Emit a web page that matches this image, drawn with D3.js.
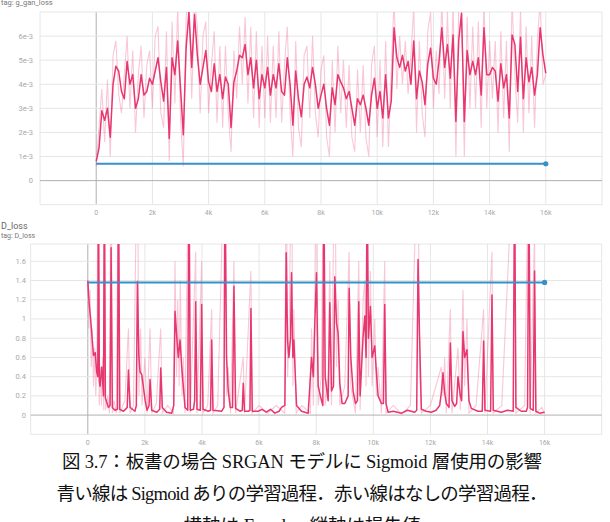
<!DOCTYPE html>
<html><head><meta charset="utf-8">
<script src="https://cdn.jsdelivr.net/npm/d3@7"></script>
<style>
html,body{margin:0;padding:0;background:#fff;}
svg{display:block;}
</style></head>
<body>
<svg id="c" width="610" height="522"></svg>
<script>
// ---------- data ----------
// top chart: g_gan_loss (units of 1e-3), sampled every 100 steps from 0 to 16000
const gStepInterval = 100;
const gSmoothed = [
0.8,1.35,2.9,2.5,3.0,1.8,4.0,4.75,4.55,3.7,
3.4,4.95,4.0,4.4,3.0,3.4,4.4,3.55,3.7,4.25,
4.0,4.55,5.1,4.1,3.3,4.7,1.75,5.1,4.4,5.8,
3.85,1.9,5.5,7.0,4.7,6.9,5.2,4.0,4.7,5.4,
4.1,3.7,4.85,3.7,4.4,3.4,4.3,4.0,2.2,4.1,
4.55,5.2,5.1,5.65,4.4,5.1,3.85,5.0,3.4,4.4,
3.85,4.7,3.55,4.4,3.85,4.85,3.7,3.55,5.1,4.0,
2.3,4.55,3.4,2.65,4.0,4.3,3.85,4.7,4.0,3.0,
3.55,4.0,3.0,2.3,3.85,3.15,4.4,4.1,3.85,3.4,
3.7,3.0,2.3,3.4,3.15,3.55,3.0,2.3,3.55,4.25,
3.0,3.7,2.6,4.4,2.6,3.3,6.35,5.1,4.7,5.2,
4.55,4.95,4.0,5.8,3.4,4.55,4.1,3.15,4.85,5.5,
4.25,4.0,4.95,6.35,4.7,5.65,4.25,6.05,2.45,5.8,
6.95,2.45,5.4,4.4,4.95,4.4,5.1,3.55,6.35,4.4,
4.4,4.7,4.55,3.3,4.85,3.85,4.4,2.6,6.05,5.65,
3.7,5.95,3.4,5.1,4.1,4.7,3.55,4.4,6.35,5.2,
4.45];
const gRaw = [
0.6,2.2,3.8,1.6,4.2,1.0,5.2,5.8,3.6,2.8,
4.4,6.0,3.0,5.4,2.0,4.4,5.6,2.6,4.8,5.4,
3.0,6.0,6.4,2.8,2.2,6.2,0.8,6.6,3.2,7.2,
2.6,0.6,6.8,7.5,3.4,7.5,6.4,2.8,6.0,6.6,
2.8,4.8,6.2,2.4,5.6,2.2,5.6,2.8,1.2,5.4,
3.4,6.4,4.0,6.8,3.2,6.4,2.6,6.2,2.2,5.6,
2.6,6.0,2.4,5.6,2.6,6.2,2.4,4.8,6.4,2.8,
1.0,5.8,2.2,1.4,5.2,5.6,2.6,6.0,2.8,1.8,
4.6,5.2,1.8,1.0,5.0,2.0,5.6,2.8,5.0,2.2,
4.8,1.8,1.2,4.6,2.0,4.8,1.8,1.0,4.8,5.6,
1.8,5.0,1.4,5.8,1.4,4.6,7.5,3.8,6.0,4.0,
5.8,3.6,5.2,7.2,2.0,5.8,2.8,1.8,6.2,7.0,
3.0,5.4,3.6,7.5,3.4,7.0,3.0,7.4,1.0,7.2,
7.5,1.0,6.8,3.0,6.4,3.0,6.6,2.2,7.5,3.0,
5.8,3.4,5.8,2.0,6.2,2.6,5.8,1.2,7.5,4.4,
2.4,7.2,2.0,6.4,2.8,6.0,2.2,5.8,7.5,4.0,
4.4];
const gSigmoidSteps = [0, 16000];
const gSigmoidVals = [0.7, 0.7];
const gYTicks = [0,1,2,3,4,5,6];
const gYTickLabels = ["0","1e-3","2e-3","3e-3","4e-3","5e-3","6e-3"];

// bottom chart: D_loss, (step, value)
const dSmoothSteps = [0,50,100,150,200,260,310,350,373,405,430,490,550,580,615,720,780,816,860,950,1040,1073,1120,1250,1380,1423,1480,1650,1700,1737,1790,1830,1890,2010,2075,2145,2180,2240,2415,2520,2554,2610,2760,2940,3010,3055,3110,3170,3230,3290,3345,3405,3500,3545,3590,3700,3743,3778,3825,3940,3988,4035,4220,4300,4338,4385,4690,4770,4804,4860,4920,4990,5070,5119,5177,5330,5410,5445,5490,5620,5680,5713,5760,5970,6100,6250,6400,6550,6700,6786,6903,6950,6996,7043,7101,7136,7183,7218,7311,7486,7720,7836,7900,7952,8010,8069,8185,8232,8267,8314,8419,8477,8535,8605,8652,8710,8768,8827,8908,9002,9118,9153,9212,9293,9375,9445,9491,9538,9643,9701,9748,9783,9829,9899,9958,10051,10109,10168,10284,10354,10400,10447,10517,10700,10984,11200,11450,11520,11567,11614,11684,11850,12033,12200,12325,12383,12441,12500,12558,12652,12698,12756,12850,12919,12966,13048,13094,13141,13199,13281,13351,13432,13666,13817,13864,13911,14109,14156,14202,14482,14700,14900,14948,14995,15181,15356,15403,15450,15496,15601,15648,15694,15822,16000];
const dSmoothVals = [1.40,1.15,1.0,0.80,0.62,0.65,0.45,0.40,2.5,0.35,0.30,0.50,0.20,2.5,0.18,0.08,0.10,1.74,0.08,0.05,0.06,2.5,0.06,0.04,0.08,0.47,0.08,0.04,0.10,1.39,0.60,0.45,0.42,0.15,0.05,0.10,0.37,0.05,0.03,0.06,0.49,0.08,0.03,0.02,0.10,1.08,0.84,0.60,0.78,0.50,0.30,0.08,0.05,2.5,0.05,0.06,0.15,1.18,0.06,0.05,1.15,0.06,0.04,0.05,0.78,0.05,0.04,0.08,2.5,0.60,0.25,0.08,0.08,1.34,0.07,0.04,0.05,0.33,0.04,0.04,0.05,1.11,0.04,0.04,0.06,0.03,0.06,0.02,0.04,0.08,0.10,1.69,0.78,0.60,0.80,1.48,0.60,0.78,0.10,0.04,0.02,0.60,0.40,0.96,1.48,0.30,0.15,0.10,2.5,0.40,0.15,1.17,0.25,0.30,1.44,0.96,0.85,0.33,0.12,0.12,0.20,1.32,0.60,0.25,0.12,0.15,1.18,0.20,0.82,1.03,0.60,2.5,0.80,1.13,0.60,0.72,0.44,0.20,0.12,0.12,1.15,0.12,0.03,0.04,0.02,0.05,0.03,0.05,1.62,0.90,0.06,0.04,0.03,0.05,0.10,0.23,0.44,0.23,0.12,0.08,0.75,0.15,0.09,0.12,0.40,0.20,0.15,0.87,0.60,0.68,0.15,0.07,0.04,0.04,0.77,0.05,0.04,1.25,0.05,0.03,0.05,0.04,2.5,0.08,0.04,0.04,0.08,2.5,0.07,0.05,1.50,0.04,0.02,0.03];
const dRawSteps = [0,40,80,120,160,200,240,280,320,360,400,440,480,520,560,580,620,700,760,816,860,920,1000,1073,1120,1300,1423,1480,1600,1737,1790,1850,1900,2000,2075,2180,2240,2400,2554,2610,2800,3000,3055,3110,3150,3200,3240,3300,3345,3405,3545,3590,3778,3825,3988,4035,4200,4338,4385,4550,4804,4860,4920,5000,5119,5177,5445,5490,5713,5760,6000,6300,6600,6900,6950,7000,7060,7136,7183,7218,7300,7500,7800,7836,7900,7952,8010,8069,8180,8267,8314,8420,8477,8535,8652,8710,8768,8827,9000,9153,9212,9375,9491,9538,9643,9701,9748,9783,9829,9899,9958,10051,10109,10168,10284,10400,10447,10700,11000,11300,11567,11614,11684,12000,12383,12441,12500,12558,12698,12756,12966,13048,13141,13199,13281,13351,13600,13864,13911,14156,14202,14500,14948,14995,15300,15450,15496,15648,15694,15900,16000];
const dRawVals = [1.4,0.9,1.3,0.5,0.9,0.3,0.7,0.2,0.6,3,0.1,0.5,0.1,0.6,0.05,3,0.05,0.2,0.02,3,0.02,0.15,0.02,3,0.02,0.15,0.9,0.02,0.1,3,0.2,0.9,0.1,0.6,0.02,0.9,0.02,0.12,0.9,0.02,0.1,0.02,1.6,0.4,1.2,0.3,1.4,0.2,0.6,0.02,3,0.02,1.7,0.02,1.6,0.02,0.1,1.1,0.02,0.1,3,0.2,0.5,0.02,1.6,0.02,0.6,0.02,1.5,0.02,0.1,0.02,0.1,0.02,3,0.4,1.0,3,0.3,1.1,0.02,0.1,0.02,0.9,0.1,1.3,3,0.1,0.4,3,0.1,0.4,1.6,0.1,3,0.5,1.2,0.1,0.3,1.7,0.3,0.02,1.6,0.05,1.2,1.4,0.3,3,0.4,1.5,0.3,1.0,0.2,0.5,0.02,1.6,0.02,0.1,0.01,0.1,3,0.5,0.02,0.1,0.5,0.2,0.6,0.02,1.1,0.02,0.7,0.05,1.3,0.3,1.0,0.02,0.1,1.1,0.02,1.7,0.02,0.1,3,0.02,0.1,3,0.02,1.9,0.02,0.08,0.02];
const dSigmoidSteps = [0, 16000];
const dSigmoidVals = [1.38, 1.38];
const dYTicks = [0,0.2,0.4,0.6,0.8,1,1.2,1.4,1.6];
const dYTickLabels = ["0","0.2","0.4","0.6","0.8","1","1.2","1.4","1.6"];

const xTicks = [0,2000,4000,6000,8000,10000,12000,14000,16000];
const xTickLabels = ["0","2k","4k","6k","8k","10k","12k","14k","16k"];

const captionLines = [
  "図  3.7：板書の場合 SRGAN モデルに Sigmoid 層使用の影響",
  "青い線は Sigmoid ありの学習過程．赤い線はなしの学習過程．",
  "横軸は Epoch，縦軸は損失値"
];

// ---------- drawing ----------
const svg = d3.select("#c");
const RED = "#e8366f", BLUE = "#3592c8";
const GRID = "#e6e6e6", AXIS = "#b0b0b0", TICK = "#a8a8a8";

function panel(cfg) {
  const x = d3.scaleLinear().domain([-2000, 18000]).range([cfg.left, cfg.right]);
  const y = d3.scaleLinear().domain(cfg.yDomain).range([cfg.bottom, cfg.top]);
  const g = svg.append("g");
  const id = "clip" + cfg.name;
  svg.append("clipPath").attr("id", id).append("rect")
    .attr("x", cfg.left).attr("y", cfg.top)
    .attr("width", cfg.right - cfg.left).attr("height", cfg.bottom - cfg.top);

  const vGrid = [-2000, ...xTicks, 18000];
  g.selectAll(".vg").data(vGrid).enter().append("line")
    .attr("x1", d => x(d)).attr("x2", d => x(d))
    .attr("y1", cfg.top).attr("y2", cfg.bottom)
    .attr("stroke", d => d === 0 ? AXIS : GRID).attr("stroke-width", 1);
  const hGrid = [cfg.yDomain[0], ...cfg.yTicks, cfg.yDomain[1]];
  g.selectAll(".hg").data(hGrid).enter().append("line")
    .attr("x1", cfg.left).attr("x2", cfg.right)
    .attr("y1", d => y(d)).attr("y2", d => y(d))
    .attr("stroke", d => d === 0 ? AXIS : GRID).attr("stroke-width", 1);

  g.selectAll(".yl").data(cfg.yTicks).enter().append("text")
    .attr("x", cfg.labelRight).attr("y", d => y(d) + 2.5)
    .attr("text-anchor", "end").attr("font-size", 7.5)
    .attr("font-family", "Roboto, 'Noto Sans', sans-serif").attr("fill", TICK)
    .text((d, i) => cfg.yTickLabels[i]);
  g.selectAll(".xl").data(xTicks).enter().append("text")
    .attr("x", d => x(d)).attr("y", cfg.xLabelY)
    .attr("text-anchor", "middle").attr("font-size", 7)
    .attr("font-family", "Roboto, 'Noto Sans', sans-serif").attr("fill", TICK)
    .text((d, i) => xTickLabels[i]);

  const lines = g.append("g").attr("clip-path", `url(#${id})`);
  const line = d3.line().x(d => x(d[0])).y(d => y(d[1]));
  lines.append("path").datum(cfg.raw)
    .attr("d", line).attr("fill", "none").attr("stroke", RED)
    .attr("stroke-opacity", 0.28).attr("stroke-width", 1.1);
  lines.append("path").datum(cfg.smooth)
    .attr("d", line).attr("fill", "none").attr("stroke", RED)
    .attr("stroke-width", 1.5).attr("stroke-linejoin", "round");
  lines.append("path").datum(cfg.sig)
    .attr("d", line).attr("fill", "none").attr("stroke", BLUE)
    .attr("stroke-width", 2);
  const last = cfg.sig[cfg.sig.length - 1];
  lines.append("circle").attr("cx", x(last[0])).attr("cy", y(last[1]))
    .attr("r", 2.6).attr("fill", BLUE);
}

panel({
  name: "g", left: 40, right: 602, top: 12, bottom: 204.7,
  yDomain: [-1, 7], yTicks: gYTicks, yTickLabels: gYTickLabels,
  labelRight: 33, xLabelY: 215,
  smooth: gSmoothed.map((v, i) => [i * gStepInterval, v]),
  raw: gRaw.map((v, i) => [i * gStepInterval, v]),
  sig: gSigmoidSteps.map((s, i) => [s, gSigmoidVals[i]])
});
panel({
  name: "d", left: 30.7, right: 601.7, top: 244, bottom: 434.3,
  yDomain: [-0.2, 1.78], yTicks: dYTicks, yTickLabels: dYTickLabels,
  labelRight: 26, xLabelY: 445,
  smooth: dSmoothSteps.map((s, i) => [s, dSmoothVals[i]]),
  raw: dRawSteps.map((s, i) => [s, dRawVals[i]]),
  sig: dSigmoidSteps.map((s, i) => [s, dSigmoidVals[i]])
});

svg.append("text").attr("x", 1).attr("y", 5).attr("font-size", 7.5)
  .attr("font-family", "Roboto, 'Noto Sans', sans-serif").attr("fill", "#777")
  .text("tag: g_gan_loss");
svg.append("text").attr("x", 1).attr("y", 229).attr("font-size", 9)
  .attr("font-family", "Roboto, 'Noto Sans', sans-serif").attr("fill", "#666")
  .text("D_loss");
svg.append("text").attr("x", 1).attr("y", 238).attr("font-size", 7)
  .attr("font-family", "Roboto, 'Noto Sans', sans-serif").attr("fill", "#777")
  .text("tag: D_loss");

// caption
const capY = [468, 500, 532];
const capW = [480, 491, null];
svg.selectAll(".cap").data(captionLines).enter().append("text")
  .attr("x", 302).attr("y", (d, i) => capY[i])
  .attr("text-anchor", "middle").attr("font-size", 18.5)
  .attr("font-family", "'Liberation Serif', 'Noto Sans CJK JP', serif")
  .attr("fill", "#111")
  .each(function(d, i) {
    if (capW[i]) d3.select(this).attr("textLength", capW[i]).attr("lengthAdjust", "spacing");
  })
  .text(d => d);
</script>
</body></html>
